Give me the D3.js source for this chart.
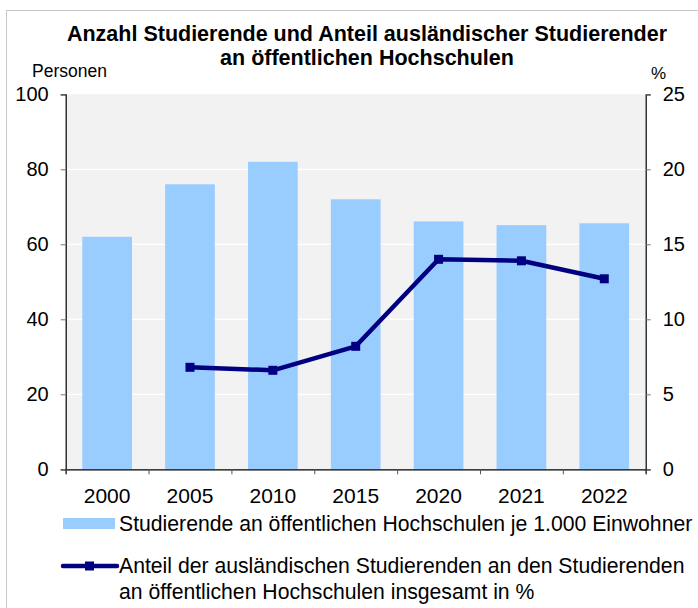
<!DOCTYPE html>
<html>
<head>
<meta charset="utf-8">
<script src="https://cdn.jsdelivr.net/npm/d3@7"></script>
<style>
  body { margin: 0; background: #fff; }
  text { font-family: "Liberation Sans", Arial, sans-serif; fill: #000; }
</style>
</head>
<body>
<div class="chart"></div>
<script>
// DATA
// ----------------------------
const years = ['2000', '2005', '2010', '2015', '2020', '2021', '2022']
const studentsPer1000 = [62, 76, 82, 72, 66.1, 65.1, 65.6]
const foreignShare = [null, 6.8, 6.6, 8.2, 14.0, 13.9, 12.7]
const leftTicks = [0, 20, 40, 60, 80, 100]
const rightTicks = [0, 5, 10, 15, 20, 25]
const titleLines = ['Anzahl Studierende und Anteil ausländischer Studierender', 'an öffentlichen Hochschulen']
const legendBar = 'Studierende an öffentlichen Hochschulen je 1.000 Einwohner'
const legendLine = ['Anteil der ausländischen Studierenden an den Studierenden', 'an öffentlichen Hochschulen insgesamt in %']

// SETUP
// ----------------------------
const fullWidth = 698
const fullHeight = 608
const margin = { top: 94.3, left: 65.7, right: 52.3, bottom: 138.7 }
const width = fullWidth - margin.left - margin.right
const height = fullHeight - margin.top - margin.bottom

const svg = d3.select('.chart')
  .append('svg')
    .attr('width', fullWidth)
    .attr('height', fullHeight)

// outer frame
svg.append('rect')
  .attr('x', 6.5).attr('y', 10.5)
  .attr('width', 720).attr('height', 640)
  .attr('fill', 'none')
  .attr('stroke', '#c8c8c8')

// title
svg.append('text')
  .attr('x', 367).attr('y', 41)
  .attr('text-anchor', 'middle')
  .style('font-size', '21.5px').style('font-weight', 'bold')
  .selectAll('tspan')
  .data(titleLines)
  .enter().append('tspan')
    .attr('x', 367)
    .attr('dy', (d, i) => i === 0 ? 0 : 24)
    .text(d => d)

svg.append('text').attr('x', 32).attr('y', 77).style('font-size', '17.5px').text('Personen')
svg.append('text').attr('x', 651).attr('y', 79).style('font-size', '17px').text('%')

const g = svg.append('g')
  .attr('transform', `translate(${margin.left}, ${margin.top})`)

// SCALES
// ----------------------------
const xScale = d3.scaleBand().domain(years).range([0, width]).paddingInner(0.4).paddingOuter(0.2)
const xBounds = d3.scaleLinear().domain([0, years.length]).range([0, width])
const yLeft = d3.scaleLinear().domain([0, 100]).range([height, 0])
const yRight = d3.scaleLinear().domain([0, 25]).range([height, 0])

// plot background + grid
g.append('rect').attr('width', width).attr('height', height).attr('fill', '#f2f2f2')
g.selectAll('.grid')
  .data(leftTicks.filter(d => d > 0 && d < 100))
  .enter().append('line')
    .attr('class', 'grid')
    .attr('x1', 0).attr('x2', width)
    .attr('y1', d => yLeft(d)).attr('y2', d => yLeft(d))
    .attr('stroke', '#fff').attr('stroke-width', 1.2)

// BARS
// ----------------------------
g.selectAll('.bar')
  .data(years)
  .enter().append('rect')
    .attr('class', 'bar')
    .attr('x', d => xScale(d))
    .attr('width', xScale.bandwidth())
    .attr('y', (d, i) => yLeft(studentsPer1000[i]))
    .attr('height', (d, i) => height - yLeft(studentsPer1000[i]))
    .attr('fill', '#99ccff')

// AXES
// ----------------------------
const leftAxis = g.append('g')
  .call(d3.axisLeft(yLeft).tickValues(leftTicks).tickSize(5).tickPadding(12))
leftAxis.selectAll('text').style('font-size', '20px')
leftAxis.selectAll('.tick line').attr('stroke', '#777')

const rightAxis = g.append('g')
  .attr('transform', `translate(${width}, 0)`)
  .call(d3.axisRight(yRight).tickValues(rightTicks).tickSize(5).tickPadding(12))
rightAxis.selectAll('text').style('font-size', '20px')
rightAxis.selectAll('.tick line').attr('stroke', '#777')

const bottomAxis = g.append('g')
  .attr('transform', `translate(0, ${height})`)
  .call(d3.axisBottom(xBounds).tickValues(d3.range(years.length + 1)).tickSize(5).tickFormat(''))
bottomAxis.selectAll('.tick line').attr('stroke', '#555')

g.append('g')
  .selectAll('text')
  .data(years)
  .enter().append('text')
    .attr('x', d => xScale(d) + xScale.bandwidth() / 2)
    .attr('y', height + 34)
    .attr('text-anchor', 'middle')
    .style('font-size', '21px')
    .text(d => d)

g.selectAll('.domain').attr('stroke', '#000').attr('stroke-width', 1.2)

// LINE
// ----------------------------
const lineData = years.map((d, i) => ({ year: d, value: foreignShare[i] })).filter(d => d.value !== null)
const cx = d => xScale(d.year) + xScale.bandwidth() / 2

g.append('path')
  .datum(lineData)
  .attr('fill', 'none')
  .attr('stroke', '#000080')
  .attr('stroke-width', 4.5)
  .attr('stroke-linejoin', 'round')
  .attr('d', d3.line().x(cx).y(d => yRight(d.value)))

g.selectAll('.marker')
  .data(lineData)
  .enter().append('rect')
    .attr('class', 'marker')
    .attr('x', d => cx(d) - 4.5)
    .attr('y', d => yRight(d.value) - 4.5)
    .attr('width', 9).attr('height', 9)
    .attr('fill', '#000080')

// LEGEND
// ----------------------------
const legend = svg.append('g')
legend.append('rect')
  .attr('x', 63).attr('y', 518).attr('width', 52).attr('height', 11)
  .attr('fill', '#99ccff')
legend.append('text')
  .attr('x', 119).attr('y', 531)
  .style('font-size', '21.2px')
  .text(legendBar)

legend.append('line')
  .attr('x1', 63).attr('x2', 117).attr('y1', 566).attr('y2', 566)
  .attr('stroke', '#000080').attr('stroke-width', 4.5).attr('stroke-linecap', 'round')
legend.append('rect')
  .attr('x', 85).attr('y', 561.5).attr('width', 9).attr('height', 9)
  .attr('fill', '#000080')
legend.append('text')
  .attr('x', 119).attr('y', 573)
  .style('font-size', '21.2px')
  .selectAll('tspan')
  .data(legendLine)
  .enter().append('tspan')
    .attr('x', 119)
    .attr('dy', (d, i) => i === 0 ? 0 : 26)
    .text(d => d)
</script>
</body>
</html>
